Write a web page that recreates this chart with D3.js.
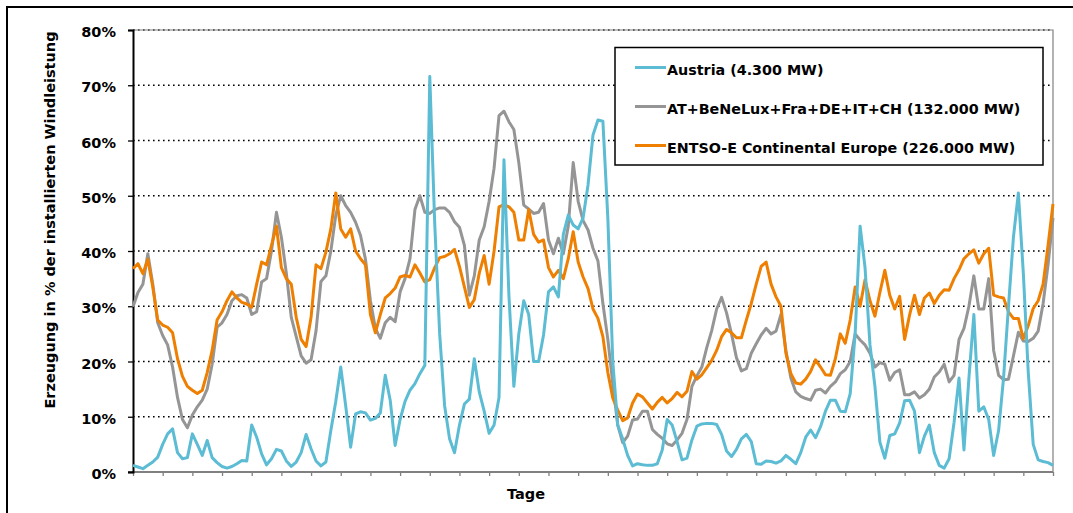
<!DOCTYPE html>
<html>
<head>
<meta charset="utf-8">
<script src="https://cdn.jsdelivr.net/npm/d3@7"></script>
<style>
  body { margin: 0; background: #fff; }
  svg { display: block; font-family: "DejaVu Sans", Verdana, sans-serif; font-weight: bold; }
</style>
</head>
<body>
<div id="chart"></div>
<script>
// values, one sample every 2 days (%)
var austria = [
  1.2, 0.9, 0.6, 1.2, 1.8, 2.7, 5, 6.9, 7.8, 3.5, 2.4, 2.6, 6.9, 5, 3, 5.7, 2.6, 1.7, 1, 0.7, 1, 1.5, 2.1, 2, 8.5, 6.3, 3.3, 1.3, 2.4, 4.1, 3.8, 2,
  1, 1.8, 3.5, 6.8, 4.2, 2, 1.1, 1.8, 7.5, 12.8, 19, 12, 4.5, 10.5, 10.9, 10.7, 9.4, 9.7, 10.7, 17.5, 13, 4.8, 9.5, 12.8, 14.8, 16, 17.8, 19.3, 71.6, 45, 25,
  12, 6, 3.5, 8.5, 12.3, 13.2, 20.5, 14.5, 11, 7, 8.5, 13.5, 56.5, 32, 15.5, 25, 31, 28.5, 20, 20, 24.8, 32.6, 33.5, 31.7, 43, 46.5, 44.7, 44, 46, 52, 61,
  63.7, 63.5, 46, 20, 8.5, 6, 3, 1.1, 1.5, 1.3, 1.2, 1.2, 1.5, 4, 9.5, 8.5, 5.5, 2.2, 2.5, 5.8, 8.3, 8.7, 8.8, 8.8, 8.6, 6.8, 3.8, 2.8, 4.1, 6, 6.8, 5.5, 1.5,
  1.4, 2, 1.9, 1.6, 2, 3, 2.3, 1.5, 3.5, 6.3, 7.6, 6.2, 8.2, 11, 13, 13, 11, 10.9, 14.2, 25, 44.5, 37, 23, 15.5, 5.4, 2.5, 6.6, 6.9, 8.9, 12.9,
  13, 11, 3.5, 6.5, 8.5, 3.5, 1.2, 0.7, 2.4, 9, 17, 4, 17, 28.5, 11, 11.8, 9.5, 3, 7.5, 17, 30, 42.5, 50.5, 36, 18, 5, 2.2, 1.9, 1.7, 1.2
];
var region = [
  29.9, 32.5, 34, 39.5, 34, 27, 24.7, 23, 19, 13.5, 9.5, 8, 10.3, 11.8, 13, 15, 19.5, 26.2, 27, 28.5, 31, 31.9, 32.1, 31.5, 28.5, 29, 34.4, 35, 40, 47, 42.5, 36,
  28, 24.5, 21, 19.7, 20.3, 25.5, 34.5, 35.5, 40, 46.5, 50, 48.2, 47, 45.2, 42.8, 38.5, 31, 26, 24.2, 27, 28, 27.2, 32.6, 35, 38.6, 47.5, 50, 47, 46.8, 47.5, 47.8,
  47.8, 47, 45.3, 44.3, 41, 32, 35.5, 42, 44.4, 49, 55, 64.5, 65.3, 63.4, 62, 56, 48.3, 47.6, 46.8, 47, 48.6, 42, 39.5, 42.3, 39.5, 44.5, 56, 49, 45.5, 43.8, 40.5,
  38.2, 30.5, 24, 16, 8.5, 5.3, 6.5, 9.4, 9.6, 11, 11, 7.7, 6.8, 6.1, 5.1, 4.8, 5.8, 7, 9.5, 15.5, 17.4, 19, 22.5, 25.6, 29.5, 31.6, 28.8, 25, 20.7, 18.3, 18.7, 21.5, 23.2,
  24.8, 26, 25, 25.5, 28.5, 22, 17, 14.5, 13.7, 13.3, 13, 14.8, 15, 14.3, 15.5, 16.3, 17.8, 18.5, 20, 25, 23.9, 23, 21.5, 19, 19.8, 19.5, 16.6, 18, 18.5, 14,
  14, 14.5, 13.4, 14, 15, 17.2, 18.1, 19.5, 16.3, 17.5, 24, 26, 30, 35.5, 29.5, 29.5, 35, 22, 17.5, 16.7, 16.8, 21, 25.3, 23.7, 23.6, 24.2, 25.5, 30.5, 37.5, 46
];
var entsoe = [
  36.8, 37.7, 35.9, 38.5, 33.5, 27.5, 26.6, 26.2, 25.2, 20.5, 17.3, 15.5, 14.8, 14.2, 14.8, 18, 22, 27.5, 29, 31, 32.6, 31.5, 30.7, 30.4, 29.8, 34, 38, 37.5, 41, 44.5, 37, 35,
  34, 28, 24, 22.7, 28, 37.5, 36.8, 39.8, 44, 50.5, 44, 42.5, 44, 40, 38.6, 37.5, 28.5, 25.2, 28.5, 31.5, 32.3, 33.3, 35.3, 35.6, 35.3, 37.5, 36, 34.4, 34.8, 37, 38.8,
  39, 39.5, 40.3, 37.2, 33.5, 29.8, 31.2, 36, 39.2, 34, 40, 48, 48.4, 48, 47, 42, 42, 47.5, 43, 41.6, 42, 37, 35.3, 36.5, 35, 38.6, 43.5, 38, 35.3, 33.2, 29.5,
  27.8, 24.5, 18, 13.4, 11.2, 9.3, 9.8, 12.5, 14.1, 13.6, 12.5, 11.4, 12.6, 13.5, 12.5, 13.3, 14.4, 13.6, 14.6, 18.2, 16.8, 17.6, 18.9, 20.2, 22, 24.5, 25.8, 25.2, 24.3, 24.3, 27.5, 30.5, 34,
  37.2, 38, 34, 31.7, 30, 21.5, 17.8, 16.1, 15.9, 16.8, 18.2, 20.3, 19, 17.6, 17.5, 20.5, 25, 23.3, 27.5, 33.5, 30, 34.8, 31, 28.2, 32.5, 36.5, 32, 29.5, 31.8, 24,
  28.4, 32, 28.5, 31.5, 32.4, 30.5, 32, 33, 32.9, 35, 36.6, 38.6, 39.5, 40.2, 37.8, 39.5, 40.5, 32, 31.7, 31.5, 29, 27.8, 27.8, 24.1, 26.5, 29.6, 31, 34, 41, 48.5
];

var seriesNames = ["Austria (4.300 MW)", "AT+BeNeLux+Fra+DE+IT+CH (132.000 MW)", "ENTSO-E Continental Europe (226.000 MW)"];
var seriesColors = ["#5bbcd4", "#959595", "#ee7f00"];
var yTicks = [0, 10, 20, 30, 40, 50, 60, 70, 80];
var dayStep = 2;      // days between samples
var tickEvery = 12;   // days between x tick marks

var W = 1073, H = 513;
var margin = {top: 30, right: 20, bottom: 41, left: 133};

var svg = d3.select("#chart").append("svg")
    .attr("width", W)
    .attr("height", H);

svg.append("rect").attr("width", W).attr("height", H).attr("fill", "#fff");

// outer frame (runs off the right/bottom edge like the original)
svg.append("rect")
    .attr("x", 7).attr("y", 7)
    .attr("width", W + 40).attr("height", H + 40)
    .attr("fill", "none").attr("stroke", "#000").attr("stroke-width", 2);

var lastDay = (austria.length - 1) * dayStep;
var x = d3.scaleLinear().domain([0, lastDay]).range([margin.left, W - margin.right]);
var y = d3.scaleLinear().domain([0, 80]).range([H - margin.bottom, margin.top]);

// dotted gridlines
svg.append("g").selectAll("line")
    .data(yTicks.filter(function (d) { return d > 0; }))
    .enter().append("line")
    .attr("x1", x(0)).attr("x2", x(lastDay))
    .attr("y1", function (d) { return y(d); })
    .attr("y2", function (d) { return y(d); })
    .attr("stroke", "#000")
    .attr("stroke-width", 1.3)
    .attr("stroke-dasharray", "1.6,3.4");

// plot frame top and right
svg.append("path")
    .attr("d", "M" + x(0) + "," + y(80) + "H" + x(lastDay) + "V" + y(0))
    .attr("fill", "none").attr("stroke", "#808080").attr("stroke-width", 1.2);

// x axis
var xAxis = svg.append("g")
    .attr("transform", "translate(0," + y(0) + ")")
    .call(d3.axisBottom(x).tickValues(d3.range(0, lastDay + 1, tickEvery)).tickSize(4).tickFormat(""));
xAxis.select(".domain").remove();
xAxis.selectAll(".tick line").attr("stroke", "#808080").attr("stroke-width", 1.3);
svg.append("line")
    .attr("x1", x(0) - 5).attr("x2", x(lastDay))
    .attr("y1", y(0)).attr("y2", y(0))
    .attr("stroke", "#808080").attr("stroke-width", 2);

// y axis
var yAxis = svg.append("g")
    .attr("transform", "translate(" + x(0) + ",0)")
    .call(d3.axisLeft(y).tickValues(yTicks).tickSize(5).tickPadding(12)
        .tickFormat(function (d) { return d + "%"; }));
yAxis.select(".domain").attr("stroke", "#000").attr("stroke-width", 2);
yAxis.selectAll(".tick line").attr("stroke", "#000").attr("stroke-width", 1.3);
yAxis.selectAll(".tick text")
    .attr("font-family", "DejaVu Sans, sans-serif")
    .attr("font-weight", "bold")
    .attr("font-size", "14.5px")
    .attr("fill", "#000")
    .attr("dy", "0.45em");

// axis titles
svg.append("text")
    .attr("transform", "translate(55," + (margin.top + 190) + ") rotate(-90)")
    .attr("text-anchor", "middle")
    .attr("font-size", "14.5px")
    .text("Erzeugung in % der installierten Windleistung");

svg.append("text")
    .attr("x", 526).attr("y", 499)
    .attr("text-anchor", "middle")
    .attr("font-size", "14.5px")
    .text("Tage");

// lines: grey, orange, then blue on top
var line = d3.line()
    .x(function (d, i) { return x(i * dayStep); })
    .y(function (d) { return y(d); });

var drawOrder = [[region, 1], [entsoe, 2], [austria, 0]];
drawOrder.forEach(function (s) {
    svg.append("path")
        .datum(s[0])
        .attr("d", line)
        .attr("fill", "none")
        .attr("stroke", seriesColors[s[1]])
        .attr("stroke-width", 3)
        .attr("stroke-linejoin", "round");
});

// legend
var lg = svg.append("g").attr("transform", "translate(615,47.5)");
lg.append("rect")
    .attr("width", 428).attr("height", 117.5)
    .attr("fill", "#fff").attr("stroke", "#000").attr("stroke-width", 1.5);
seriesNames.forEach(function (name, i) {
    var ry = 20 + i * 39;
    lg.append("line")
        .attr("x1", 20).attr("x2", 51)
        .attr("y1", ry).attr("y2", ry)
        .attr("stroke", seriesColors[i]).attr("stroke-width", 3);
    lg.append("text")
        .attr("x", 52).attr("y", ry + 7.5)
        .attr("font-size", "14.3px")
        .text(name);
});
</script>
</body>
</html>
